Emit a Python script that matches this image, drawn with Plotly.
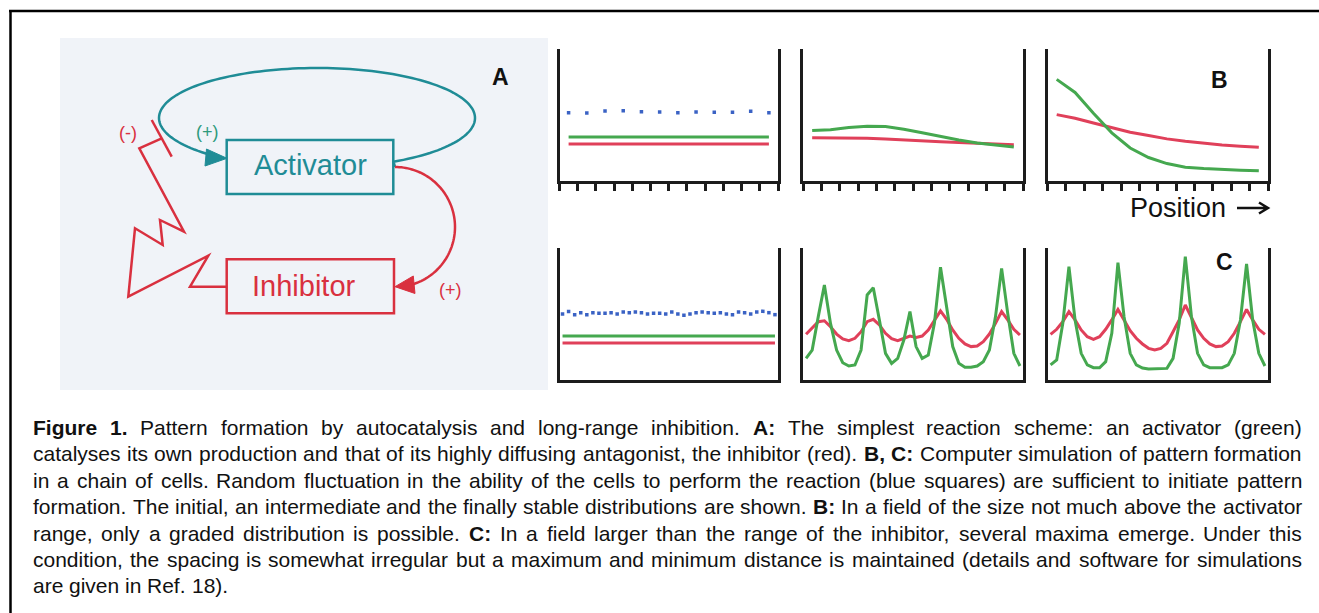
import numpy as np
import plotly.graph_objects as go

W, H = 1319, 613

# ---------------- data (values as fraction of each panel's height) ----------------
b_cells = list(range(12))
c_cells = list(range(36))

b0_noise = [0.517, 0.515, 0.530, 0.533, 0.525, 0.523, 0.517, 0.523, 0.520, 0.520, 0.528, 0.517]
b0_activator = [0.333, 0.333, 0.333, 0.333, 0.333, 0.333, 0.333, 0.333, 0.333, 0.333, 0.333, 0.333]
b0_inhibitor = [0.280, 0.280, 0.280, 0.280, 0.280, 0.280, 0.280, 0.280, 0.280, 0.280, 0.280, 0.280]

b1_activator = [0.382, 0.389, 0.405, 0.415, 0.412, 0.392, 0.366, 0.338, 0.311, 0.288, 0.273, 0.257]
b1_inhibitor = [0.328, 0.328, 0.326, 0.323, 0.318, 0.313, 0.305, 0.298, 0.292, 0.285, 0.280, 0.275]

b2_activator = [0.770, 0.671, 0.513, 0.365, 0.250, 0.178, 0.132, 0.105, 0.094, 0.086, 0.082, 0.077]
b2_inhibitor = [0.503, 0.475, 0.439, 0.403, 0.370, 0.344, 0.319, 0.301, 0.286, 0.273, 0.263, 0.256]

c0_noise = [0.500, 0.518, 0.495, 0.510, 0.495, 0.510, 0.505, 0.505, 0.510, 0.500, 0.515, 0.510,
            0.515, 0.510, 0.500, 0.505, 0.505, 0.500, 0.515, 0.500, 0.490, 0.500, 0.510, 0.515,
            0.510, 0.505, 0.510, 0.500, 0.495, 0.515, 0.510, 0.500, 0.515, 0.520, 0.510, 0.495]
c0_activator = [0.333, 0.333, 0.333, 0.333, 0.333, 0.333, 0.333, 0.333, 0.333, 0.333, 0.333, 0.333,
                0.333, 0.333, 0.333, 0.333, 0.333, 0.333, 0.333, 0.333, 0.333, 0.333, 0.333, 0.333,
                0.333, 0.333, 0.333, 0.333, 0.333, 0.333, 0.333, 0.333, 0.333, 0.333, 0.333, 0.333]
c0_inhibitor = [0.280, 0.280, 0.280, 0.280, 0.280, 0.280, 0.280, 0.280, 0.280, 0.280, 0.280, 0.280,
                0.280, 0.280, 0.280, 0.280, 0.280, 0.280, 0.280, 0.280, 0.280, 0.280, 0.280, 0.280,
                0.280, 0.280, 0.280, 0.280, 0.280, 0.280, 0.280, 0.280, 0.280, 0.280, 0.280, 0.280]

c1_activator = [0.164, 0.227, 0.480, 0.720, 0.429, 0.227, 0.131, 0.106, 0.114, 0.227, 0.644, 0.699,
                0.455, 0.202, 0.126, 0.164, 0.303, 0.518, 0.253, 0.164, 0.189, 0.429, 0.854, 0.556,
                0.253, 0.126, 0.096, 0.096, 0.106, 0.139, 0.227, 0.480, 0.846, 0.505, 0.202, 0.106]
c1_inhibitor = [0.346, 0.391, 0.442, 0.449, 0.404, 0.348, 0.311, 0.298, 0.316, 0.366, 0.442, 0.460,
                0.417, 0.354, 0.313, 0.298, 0.313, 0.333, 0.323, 0.333, 0.379, 0.455, 0.523, 0.460,
                0.379, 0.316, 0.273, 0.253, 0.258, 0.290, 0.348, 0.429, 0.518, 0.455, 0.384, 0.341]

c2_activator = [0.114, 0.152, 0.429, 0.859, 0.455, 0.202, 0.114, 0.093, 0.093, 0.139, 0.354, 0.889,
                0.480, 0.202, 0.114, 0.091, 0.083, 0.083, 0.083, 0.088, 0.164, 0.429, 0.934, 0.480,
                0.202, 0.114, 0.093, 0.091, 0.093, 0.114, 0.202, 0.455, 0.879, 0.455, 0.202, 0.106]
c2_inhibitor = [0.346, 0.384, 0.442, 0.518, 0.455, 0.379, 0.328, 0.308, 0.328, 0.384, 0.455, 0.535,
                0.455, 0.374, 0.316, 0.273, 0.240, 0.227, 0.240, 0.278, 0.366, 0.455, 0.568, 0.467,
                0.379, 0.316, 0.273, 0.253, 0.258, 0.290, 0.354, 0.442, 0.535, 0.455, 0.384, 0.346]

caption_lines = [
    [("Figure 1.", True), ("Pattern formation by autocatalysis and long-range inhibition.", False),
     ("A:", True), ("The simplest reaction scheme: an activator (green)", False)],
    [("catalyses its own production and that of its highly diffusing antagonist, the inhibitor (red).", False),
     ("B, C:", True), ("Computer simulation of pattern formation", False)],
    [("in a chain of cells. Random fluctuation in the ability of the cells to perform the reaction (blue squares) are sufficient to initiate pattern", False)],
    [("formation. The initial, an intermediate and the finally stable distributions are shown.", False),
     ("B:", True), ("In a field of the size not much above the activator", False)],
    [("range, only a graded distribution is possible.", False), ("C:", True),
     ("In a field larger than the range of the inhibitor, several maxima emerge. Under this", False)],
    [("condition, the spacing is somewhat irregular but a maximum and minimum distance is maintained (details and software for simulations", False)],
    [("are given in Ref. 18).", False)],
]

# ---------------- styles ----------------
GREEN = "#45a84f"
RED = "#e0405a"
BLUE = "#3a62c4"
TEAL = "#1f8c96"
DRED = "#d9303f"
AXC = "#1c1c1c"

fig = go.Figure()

# panel boxes in pixels: left, right, top, bottom, ncells, ticks
panels = [
    (559.5, 778, 49, 181, 12, True),
    (803, 1023, 49, 181, 12, True),
    (1047.5, 1268, 49, 181, 12, True),
    (559.5, 778, 248, 380, 36, False),
    (803, 1023, 248, 380, 36, False),
    (1047.5, 1268, 248, 380, 36, False),
]
series = [
    (b_cells, b0_activator, b0_inhibitor, b0_noise),
    (b_cells, b1_activator, b1_inhibitor, None),
    (b_cells, b2_activator, b2_inhibitor, None),
    (c_cells, c0_activator, c0_inhibitor, c0_noise),
    (c_cells, c1_activator, c1_inhibitor, None),
    (c_cells, c2_activator, c2_inhibitor, None),
]

layout_axes = {}
for k, ((l, r, t, b, n, ticks), (cells, act, inh, noise)) in enumerate(zip(panels, series), start=1):
    xs = [c + 0.5 for c in cells]
    xn, yn = ("x" if k == 1 else f"x{k}"), ("y" if k == 1 else f"y{k}")
    if noise is not None:
        fig.add_trace(go.Scatter(x=xs, y=noise, mode="markers", xaxis=xn, yaxis=yn,
                                 marker=dict(symbol="square", size=3.5, color=BLUE)))
    fig.add_trace(go.Scatter(x=xs, y=inh, mode="lines", xaxis=xn, yaxis=yn,
                             line=dict(color=RED, width=3)))
    fig.add_trace(go.Scatter(x=xs, y=act, mode="lines", xaxis=xn, yaxis=yn,
                             line=dict(color=GREEN, width=3)))
    xa = dict(domain=[l / W, r / W], range=[0, n], showgrid=False, zeroline=False,
              showticklabels=False, showline=True, linewidth=3, linecolor=AXC,
              anchor=yn, fixedrange=True)
    if ticks:
        xa.update(ticks="outside", tickvals=list(range(n + 1)), ticklen=7, tickwidth=2.5, tickcolor=AXC)
    ya = dict(domain=[1 - b / H, 1 - t / H], range=[0, 1], showgrid=False, zeroline=False,
              showticklabels=False, showline=True, mirror=True, linewidth=3, linecolor=AXC,
              anchor=xn, fixedrange=True)
    layout_axes["xaxis" if k == 1 else f"xaxis{k}"] = xa
    layout_axes["yaxis" if k == 1 else f"yaxis{k}"] = ya

# ---------------- helpers for pixel-positioned shapes ----------------
def px(x):
    return x / W

def py(y):
    return 1 - y / H

def path(points, close=False):
    s = "M " + " L ".join(f"{px(x):.5f},{py(y):.5f}" for x, y in points)
    return s + (" Z" if close else "")

shapes = []
# outer frame
shapes.append(dict(type="line", xref="paper", yref="paper", x0=px(9), y0=py(11), x1=px(1319), y1=py(11),
                   line=dict(color="black", width=2.5)))
shapes.append(dict(type="line", xref="paper", yref="paper", x0=px(10.5), y0=py(10), x1=px(10.5), y1=py(613),
                   line=dict(color="black", width=2.5)))
# diagram background
shapes.append(dict(type="rect", xref="paper", yref="paper", x0=px(60), y0=py(38), x1=px(548), y1=py(390),
                   fillcolor="#f0f3f8", line=dict(width=0), layer="below"))
# boxes
shapes.append(dict(type="rect", xref="paper", yref="paper", x0=px(226.7), y0=py(140), x1=px(393.3), y1=py(194),
                   line=dict(color=TEAL, width=2.5)))
shapes.append(dict(type="rect", xref="paper", yref="paper", x0=px(226.7), y0=py(259.3), x1=px(394), y1=py(313.3),
                   line=dict(color=DRED, width=2.5)))
# teal autocatalytic loop
th = np.radians(np.linspace(61, -227.4, 140))
loop = [(395, 167)] + [(317 + 158 * np.cos(a), 118 + 50 * np.sin(a)) for a in th]
shapes.append(dict(type="path", xref="paper", yref="paper", path=path(loop),
                   line=dict(color=TEAL, width=2.5)))
shapes.append(dict(type="path", xref="paper", yref="paper",
                   path=path([(206.5, 149), (205, 166), (227, 158.3)], close=True),
                   fillcolor=TEAL, line=dict(color=TEAL, width=1)))
# red activation arc to inhibitor
th2 = np.radians(np.linspace(-90, 72.5, 80))
arc = [(395 + 60 * np.cos(a), 227 + 60 * np.sin(a)) for a in th2]
shapes.append(dict(type="path", xref="paper", yref="paper", path=path(arc),
                   line=dict(color=DRED, width=2.5)))
shapes.append(dict(type="path", xref="paper", yref="paper",
                   path=path([(395, 286.7), (413.3, 276), (415, 293.5)], close=True),
                   fillcolor=DRED, line=dict(color=DRED, width=1)))
# red zigzag inhibition
zig = [(226.7, 286.7), (190, 286.7), (208.3, 255.7), (128.3, 296.7), (135, 228.3), (162.7, 245),
       (160, 220), (184, 231.7), (139.3, 148.3), (161.7, 138.3)]
shapes.append(dict(type="path", xref="paper", yref="paper", path=path(zig),
                   line=dict(color=DRED, width=2.5)))
shapes.append(dict(type="line", xref="paper", yref="paper", x0=px(151.7), y0=py(120), x1=px(171.7), y1=py(156.7),
                   line=dict(color=DRED, width=2.5)))
# position arrow
shapes.append(dict(type="path", xref="paper", yref="paper",
                   path=path([(1237, 208), (1267, 208)]) + " " + path([(1259, 202.5), (1268, 208), (1259, 213.5)]),
                   line=dict(color="#111", width=2.5)))

annotations = []

def text(x, y, s, size, color, family="Liberation Sans", anchor="center"):
    annotations.append(dict(x=px(x), y=py(y), xref="paper", yref="paper", text=s, showarrow=False,
                            xanchor=anchor, yanchor="middle",
                            font=dict(size=size, color=color, family=family)))

text(310, 165, "Activator", 29, TEAL)
text(304, 286, "Inhibitor", 29, DRED)
text(207, 132, "(+)", 18, "#2e9a7c")
text(128, 133, "(-)", 18, DRED)
text(450, 290, "(+)", 18, DRED)
text(501, 77, "<b>A</b>", 23, "#111")
text(1219, 80, "<b>B</b>", 23, "#111")
text(1224, 262, "<b>C</b>", 23, "#111")
text(1178, 208, "Position", 27, "#111")

# ---------------- justified caption ----------------
REG = {' ': 278, '(': 333, ')': 333, ',': 278, '-': 333, '.': 278, ':': 278,
       'A': 667, 'B': 667, 'C': 722, 'D': 722, 'E': 667, 'F': 611, 'G': 778, 'H': 722, 'I': 278,
       'J': 500, 'K': 667, 'L': 556, 'M': 833, 'N': 722, 'O': 778, 'P': 667, 'Q': 778, 'R': 722,
       'S': 667, 'T': 611, 'U': 722, 'V': 667, 'W': 944, 'X': 667, 'Y': 667, 'Z': 611,
       'a': 556, 'b': 556, 'c': 500, 'd': 556, 'e': 556, 'f': 278, 'g': 556, 'h': 556, 'i': 222,
       'j': 222, 'k': 500, 'l': 222, 'm': 833, 'n': 556, 'o': 556, 'p': 556, 'q': 556, 'r': 333,
       's': 500, 't': 278, 'u': 556, 'v': 500, 'w': 722, 'x': 500, 'y': 500, 'z': 500}
BOLD = {'A': 722, 'B': 722, 'C': 722, 'F': 611, 'i': 278, 'g': 611, 'u': 611, 'r': 389, 'e': 556,
        '1': 556, '.': 278, ':': 333, ',': 278}
for d in "0123456789":
    REG[d] = 556

CAP_SIZE = 21
BOLD_SIZE = 21
X0, X1 = 32, 1301

def width(word, bold):
    if bold:
        return sum(BOLD.get(c, 611) for c in word) * BOLD_SIZE / 1000
    return sum(REG.get(c, 556) for c in word) * CAP_SIZE / 1000

for li, line in enumerate(caption_lines):
    words = []
    for s, bold in line:
        for w in s.split(" "):
            if w:
                words.append((w, bold))
    ws = [width(w, b) for w, b in words]
    last = li == len(caption_lines) - 1
    gap = REG[' '] * CAP_SIZE / 1000 if last else (X1 - X0 - sum(ws)) / (len(words) - 1)
    x = X0
    yc = 427.5 + 26.4 * li
    for (w, bold), wd in zip(words, ws):
        annotations.append(dict(x=px(x), y=py(yc), xref="paper", yref="paper",
                                text=f"<b>{w}</b>" if bold else w,
                                showarrow=False, xanchor="left", yanchor="middle", borderpad=0,
                                font=dict(size=BOLD_SIZE if bold else CAP_SIZE, color="#111",
                                          family="Liberation Sans")))
        x += wd + gap

fig.update_layout(width=W, height=H, margin=dict(l=0, r=0, t=0, b=0),
                  paper_bgcolor="white", plot_bgcolor="rgba(0,0,0,0)", showlegend=False,
                  shapes=shapes, annotations=annotations, **layout_axes)

fig.write_html("out.html", config={"displayModeBar": False},
               post_script="document.body.style.margin='0px';")
